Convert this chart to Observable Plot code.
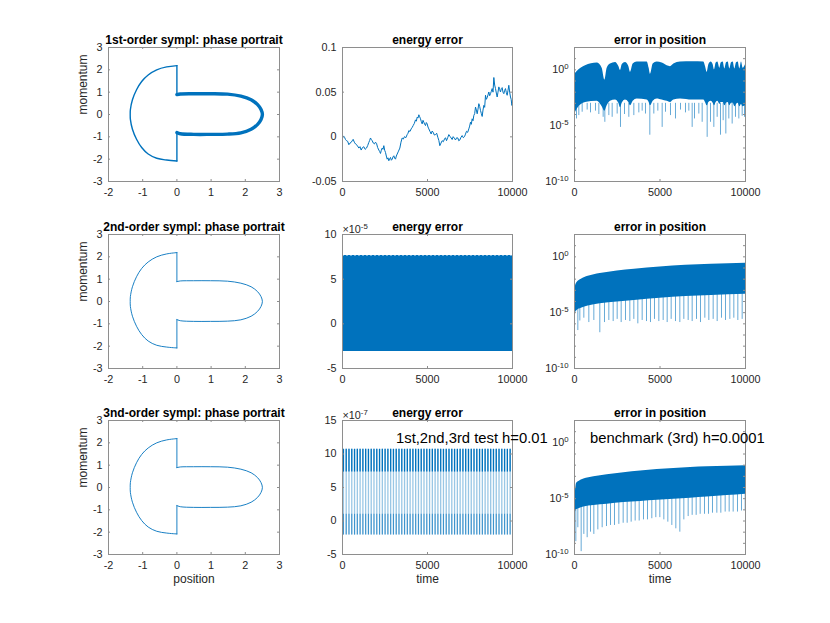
<!DOCTYPE html>
<html><head><meta charset="utf-8">
<script src="https://cdn.jsdelivr.net/npm/d3@7"></script>
<script src="https://cdn.jsdelivr.net/npm/@observablehq/plot@0.6"></script>
<style>
body{margin:0;background:#fff;}
#fig{position:relative;width:830px;height:623px;background:#fff;overflow:hidden;font-family:"Liberation Sans",Arial,Helvetica,sans-serif;}
.panel{position:absolute;}
.note{position:absolute;font-size:14.8px;color:#000;white-space:nowrap;line-height:1;}
</style></head><body><div id="fig"></div>
<script>
// ---------- DATA ----------
const phaseTitles = ["1st-order sympl: phase portrait", "2nd-order sympl: phase portrait", "3nd-order sympl: phase portrait"];
const energyTitle = "energy error";
const errTitle = "error in position";
const noteLeft = "1st,2nd,3rd test h=0.01";
const noteRight = "benchmark (3rd) h=0.0001";

const phaseXTicks = [-2, -1, 0, 1, 2, 3];
const phaseYTicks = [-3, -2, -1, 0, 1, 2, 3];
const timeTicks = [0, 5000, 10000];

// phase portrait: left arc, stems at x=0, right loop
const arcX = [0, -0.30, -0.59, -0.84, -1.03, -1.18, -1.30, -1.36, -1.365, -1.36, -1.30, -1.18, -1.03, -0.84, -0.59, -0.30, 0];
const arcP = [2.19, 2.13, 2.00, 1.77, 1.48, 1.11, 0.66, 0.22, 0, -0.22, -0.66, -1.11, -1.48, -1.77, -1.96, -2.04, -2.08];
const stemLowX = [0, 0], stemLowP = [-2.08, -0.81];
const stemHighX = [0, 0], stemHighP = [0.89, 2.19];
const loopX = [0, 0.10, 0.49, 0.98, 1.48, 1.87, 2.17, 2.36, 2.46, 2.50, 2.46, 2.36, 2.17, 1.87, 1.48, 0.98, 0.49, 0.10, 0];
const loopP = [-0.81, -0.86, -0.89, -0.89, -0.88, -0.82, -0.66, -0.44, -0.22, 0, 0.22, 0.44, 0.66, 0.82, 0.91, 0.93, 0.93, 0.92, 0.89];

// energy error, 1st order
const energy1T = [0,59,118,176,235,304,373,441,510,568,627,696,765,863,961,1030,1098,1176,1255,1333,1412,1480,1549,1598,1647,1696,1745,1813,1882,1941,2000,2068,2137,2186,2235,2284,2333,2382,2431,2480,2529,2578,2627,2676,2725,2775,2824,2873,2922,2971,3020,3069,3118,3167,3216,3295,3373,3441,3510,3578,3647,3725,3804,3853,3902,3970,4039,4098,4157,4225,4294,4343,4392,4441,4490,4539,4588,4637,4686,4735,4784,4833,4882,4931,4980,5029,5078,5147,5216,5274,5333,5402,5471,5540,5608,5667,5725,5794,5863,5931,6000,6059,6118,6186,6255,6324,6392,6451,6510,6578,6647,6716,6784,6843,6902,6970,7039,7108,7176,7235,7294,7363,7431,7480,7529,7578,7627,7676,7725,7775,7824,7873,7922,7971,8020,8069,8118,8167,8216,8265,8314,8363,8412,8461,8510,8559,8608,8657,8706,8755,8804,8853,8902,8951,9000,9049,9098,9147,9196,9245,9294,9343,9392,9441,9490,9539,9588,9637,9686,9735,9784,9833,9882,9922,9961,10000];
const energy1V = [-0.0013,0.0010,-0.0005,-0.0030,-0.0043,-0.0050,-0.0088,-0.0070,-0.0062,-0.0045,-0.0028,-0.0060,-0.0080,-0.0095,-0.0126,-0.0110,-0.0148,-0.0120,-0.0111,-0.0140,-0.0126,-0.0098,-0.0062,-0.0040,-0.0013,-0.0030,-0.0043,-0.0070,-0.0080,-0.0060,-0.0073,-0.0120,-0.0148,-0.0165,-0.0186,-0.0150,-0.0126,-0.0140,-0.0099,-0.0150,-0.0174,-0.0215,-0.0250,-0.0235,-0.0268,-0.0245,-0.0231,-0.0262,-0.0250,-0.0225,-0.0212,-0.0240,-0.0250,-0.0215,-0.0193,-0.0160,-0.0126,-0.0060,-0.0013,-0.0025,0.0002,-0.0010,0.0025,0.0040,0.0070,0.0060,0.0089,0.0105,0.0126,0.0150,0.0190,0.0175,0.0220,0.0210,0.0247,0.0225,0.0202,0.0170,0.0145,0.0185,0.0164,0.0140,0.0126,0.0160,0.0145,0.0110,0.0089,0.0060,0.0032,0.0065,0.0051,0.0020,0.0025,0.0040,-0.0005,-0.0040,-0.0099,-0.0070,-0.0043,-0.0055,-0.0024,-0.0010,-0.0043,-0.0010,0.0025,0.0005,-0.0013,-0.0030,0.0002,-0.0015,-0.0035,-0.0010,-0.0013,-0.0045,-0.0035,-0.0005,0.0014,-0.0010,0.0002,0.0030,0.0062,0.0050,0.0089,0.0120,0.0164,0.0140,0.0202,0.0180,0.0239,0.0260,0.0333,0.0300,0.0258,0.0310,0.0371,0.0340,0.0295,0.0260,0.0228,0.0300,0.0352,0.0330,0.0465,0.0420,0.0438,0.0470,0.0502,0.0460,0.0483,0.0510,0.0540,0.0500,0.0664,0.0580,0.0540,0.0490,0.0446,0.0500,0.0559,0.0530,0.0502,0.0540,0.0551,0.0500,0.0483,0.0520,0.0540,0.0495,0.0465,0.0520,0.0577,0.0500,0.0446,0.0420,0.0352,0.0371];
const energy1Ticks = [-0.05, 0, 0.05, 0.1];

// energy error, 2nd order (dense oscillation band)
const energy2T = [0, 10000];
const energy2Lo = [-3.1e-5, -3.1e-5];
const energy2Hi = [7.65e-5, 7.65e-5];
const energy2Ticks = [-5e-5, 0, 5e-5, 10e-5];

// energy error, 3rd order (spikes)
const energy3T = [55,218,381,545,708,872,1035,1199,1362,1526,1689,1852,2016,2179,2343,2506,2670,2833,2997,3160,3323,3487,3650,3814,3977,4141,4304,4468,4631,4794,4958,5121,5285,5448,5612,5775,5939,6102,6265,6429,6592,6756,6919,7083,7246,7410,7573,7736,7900,8063,8227,8390,8554,8717,8881,9044,9207,9371,9534,9698,9861];
const energy3Min = -2.1e-7, energy3Max = 10.7e-7, energy3UpperDense = 7.3e-7, energy3LowerDense = 1.0e-7;
const energy3Ticks = [-5e-7, 0, 5e-7, 10e-7, 15e-7];

// error in position (log scale)
const logLabelTicks = [1e-10, 1e-5, 1];
const logDecades = [1e-10,1e-9,1e-8,1e-7,1e-6,1e-5,1e-4,1e-3,1e-2,1e-1,1,10,100];

const err1T = [0,156,644,1326,1618,1774,1910,2105,2398,2593,2690,2788,2982,3177,3275,3431,3665,4250,4366,4444,4600,4834,5127,5419,5614,5809,6199,6900,7563,7661,7758,7856,7992,8109,8187,8285,8382,8499,8577,8694,8791,8889,8986,9084,9181,9279,9376,9474,9571,9669,9766,9864,10000];
const err1Hi = [0.35,0.7,2.3,4.0,1.4,0.12,1.4,3.3,4.6,2.0,0.87,2.85,4.6,2.0,0.6,3.3,5.0,5.0,1.4,0.4,3.3,5.0,4.0,2.3,1.9,3.3,5.0,5.2,5.0,2.0,0.6,2.85,5.0,2.85,1.0,4.0,5.0,1.4,4.0,5.0,1.2,4.3,5.0,1.2,4.3,5.0,1.2,4.3,5.0,1.2,5.0,1.4,2.85];
const err1Lo = [1e-4,3e-4,1.2e-3,1.5e-3,5e-4,2e-4,6e-4,1.5e-3,2e-3,1e-3,4e-4,1e-3,2e-3,1.2e-3,6e-4,1.5e-3,2.5e-3,2e-3,1.2e-3,6e-4,1.5e-3,2.5e-3,2e-3,1.5e-3,1.2e-3,2e-3,2.5e-3,2e-3,2e-3,1.2e-3,6e-4,1.2e-3,1.5e-3,1e-3,6e-4,1.2e-3,1.5e-3,8e-4,1.2e-3,1.2e-3,6e-4,1e-3,1.2e-3,6e-4,1e-3,1e-3,5e-4,8e-4,1e-3,5e-4,8e-4,5e-4,6e-4];
const err1SpikeT = [0,117,253,448,741,936,1228,1423,1676,1774,2008,2203,2495,2690,2924,3177,3470,3762,3957,4152,4405,4639,4873,5127,5322,5614,5906,6199,6491,6686,6881,7018,7271,7466,7758,7953,8148,8343,8538,8694,8850,9025,9220,9415,9610,9805,9942];
const err1SpikeMin = [1.3e-9,4e-5,8e-5,1.6e-4,2.5e-4,1.4e-4,2e-4,1e-4,5.6e-5,2e-5,8e-5,5.6e-5,1.1e-4,7e-6,1e-4,5.6e-5,8e-5,1.4e-4,2e-4,1.1e-4,1.4e-6,1.1e-4,2e-4,7e-6,1.6e-4,8e-5,4e-5,2.5e-4,1.4e-4,2e-4,7e-6,4e-5,1.1e-4,2e-5,9e-7,2e-5,7e-6,5.6e-5,1.4e-6,2.8e-5,1.8e-6,4e-5,1.4e-5,5.6e-5,4e-5,7e-5,5.6e-5];
const err1SpikeTop = 1e-3;

const err2T = [20,60,150,400,800,1500,2500,3500,5000,6500,8000,10000];
const err2Hi = [6.3e-4,2.5e-3,5e-3,1e-2,1.8e-2,3.2e-2,5.5e-2,7.9e-2,0.126,0.178,0.219,0.27];
const err2Lo = [6.3e-6,1e-5,1.6e-5,2.5e-5,4e-5,6.3e-5,8.9e-5,1.26e-4,2e-4,2.8e-4,3.5e-4,4.5e-4];
const err2SpikeT = [0,195,312,546,838,1131,1481,1754,2008,2261,2495,2729,2982,3236,3470,3704,3957,4211,4444,4678,4932,5185,5419,5653,5906,6160,6394,6647,6881,7135,7368,7622,7856,8109,8343,8596,8830,9084,9318,9552,9805];
const err2SpikeMin = [1e-9,2.5e-7,1.8e-6,3.2e-6,1.3e-6,2e-6,1.6e-7,1.3e-6,2e-6,1.6e-6,2.5e-6,1.3e-6,2e-6,1.6e-6,2.5e-6,1e-6,2e-6,1.6e-6,1.3e-6,2.5e-6,1.6e-6,2e-6,1.3e-6,2.5e-6,1.6e-6,1.3e-6,2.5e-6,2e-6,1.6e-6,2.5e-6,1.3e-6,3.2e-6,2e-6,2.5e-6,1.6e-6,3.2e-6,2e-6,2.5e-6,3.2e-6,2e-6,2.5e-6];
const err2SpikeTop = 1e-3;

const err3T = [20,60,117,253,546,1131,1910,2885,3860,4834,5809,6784,7758,8928,10000];
const err3Hi = [1e-5,5e-5,2.3e-4,3.5e-4,5.8e-4,9.3e-4,1.4e-3,2.1e-3,3e-3,4e-3,5e-3,6.2e-3,7.1e-3,8.1e-3,8.7e-3];
const err3Lo = [3.2e-7,6.3e-7,1e-6,1.26e-6,1.8e-6,2.5e-6,3.2e-6,4.5e-6,5.6e-6,7.1e-6,8.9e-6,1.1e-5,1.4e-5,1.9e-5,2.5e-5];
const err3SpikeT = [0,78,195,390,546,741,936,1131,1365,1618,1871,2105,2339,2593,2846,3080,3314,3548,3782,4035,4269,4522,4756,4990,5224,5458,5692,5926,6160,6394,6647,6881,7115,7349,7602,7836,8070,8324,8558,8811,9045,9279,9532,9766,9980];
const err3SpikeMin = [3.2e-10,1.4e-9,2.5e-8,1.8e-10,6.3e-9,3.2e-9,1e-8,6.3e-9,1.6e-8,2.5e-8,3.2e-8,4e-8,4e-8,5e-8,6.3e-8,6.3e-8,7.9e-8,1e-7,1e-7,1.26e-7,1.26e-7,1.6e-7,2e-7,2e-7,1.26e-7,7.9e-8,4e-8,2e-8,1e-8,1.26e-7,2.5e-7,3.2e-7,3.2e-7,4e-7,4e-7,4e-7,5e-7,5e-7,5e-7,6.3e-7,6.3e-7,6.3e-7,6.3e-7,7.9e-7,7.9e-7];
const err3SpikeTop = 1e-4;

// ---------- STYLE / LAYOUT ----------
const BLUE = "#0072BD";
const AXC = "#8e8e8e";
const TXT = "#262626";
const FONT = "'Liberation Sans', Arial, Helvetica, sans-serif";
const colX = [108, 342, 574], colW = [171, 170, 171];
const rowY = [47, 234, 420], rowH = 134;
const ML = 60, MR = 20, MT = 30, MB = 40, TL = 2;

const zip = (xs, ys, kx, ky) => xs.map((v, i) => ({[kx]: v, [ky]: ys[i]}));
const logFmt = d => "10^" + Math.round(Math.log10(d));

const fig = document.getElementById("fig");

// turn "base^exp" texts into real superscript tspans
function superscripts(svg) {
  d3.select(svg).selectAll("text").each(function () {
    const s = this.textContent;
    if (!s.includes("^")) return;
    const [b, e] = s.split("^");
    this.textContent = "";
    const t = d3.select(this);
    t.append("tspan").text(b);
    t.append("tspan").attr("dy", "-0.5em").attr("font-size", "0.72em").text(e);
  });
}

function panel({row, col, xDomain, xTicks, yDomain, yTicks, yType, yTickMarks, yFormat, marks, title, xlabel, ylabel, expo}) {
  const w = colW[col], h = rowH;
  const extra = [];
  if (ylabel) extra.push(Plot.text([ylabel], {text: d => d, frameAnchor: "left", rotate: -90, dx: -25, fontSize: 12, fill: TXT}));
  if (xlabel) extra.push(Plot.text([xlabel], {text: d => d, frameAnchor: "bottom", dy: 28, fontSize: 12, fill: TXT}));
  if (expo) extra.push(Plot.text([expo], {text: d => d, frameAnchor: "top-left", dy: -2, textAnchor: "start", lineAnchor: "bottom", fontSize: 10.8, fill: TXT}));
  const ytm = yTickMarks || yTicks;
  const svg = Plot.plot({
    width: w + ML + MR, height: h + MT + MB,
    marginLeft: ML, marginRight: MR, marginTop: MT, marginBottom: MB,
    x: {domain: xDomain, label: null},
    y: {domain: yDomain, type: yType || "linear", label: null},
    style: {background: "transparent", overflow: "visible", fontFamily: FONT, fontSize: "10.8px", color: TXT},
    marks: [
      ...marks,
      Plot.frame({stroke: AXC}),
      Plot.tickX(xTicks, {x: d => d, insetTop: h - TL, stroke: AXC}),
      Plot.tickX(xTicks, {x: d => d, insetBottom: h - TL, stroke: AXC}),
      Plot.tickY(ytm, {y: d => d, insetRight: w - TL, stroke: AXC}),
      Plot.tickY(ytm, {y: d => d, insetLeft: w - TL, stroke: AXC}),
      Plot.axisX({ticks: xTicks, tickSize: 0, tickPadding: 7, fontSize: 10.8, tickFormat: d => String(d)}),
      Plot.axisY({ticks: yTicks, tickSize: 0, tickPadding: 6, fontSize: 10.8, tickFormat: yFormat}),
      Plot.text([title], {text: d => d, frameAnchor: "top", dy: -4, lineAnchor: "bottom", fontWeight: "bold", fontSize: 12, fill: "#000"}),
      ...extra
    ]
  });
  superscripts(svg);
  const div = document.createElement("div");
  div.className = "panel";
  div.style.left = (colX[col] - ML) + "px";
  div.style.top = (rowY[row] - MT) + "px";
  div.appendChild(svg);
  fig.appendChild(div);
}

// ---------- PHASE PORTRAITS ----------
const arc = zip(arcX, arcP, "x", "p");
const stemLow = zip(stemLowX, stemLowP, "x", "p");
const stemHigh = zip(stemHighX, stemHighP, "x", "p");
const loop = zip(loopX, loopP, "x", "p");
for (let r = 0; r < 3; r++) {
  const thin = r > 0 ? 0.9 : 1.4;
  const loopW = r > 0 ? 0.9 : 3.4;
  panel({
    row: r, col: 0, xDomain: [-2, 3], xTicks: phaseXTicks, yDomain: [-3, 3], yTicks: phaseYTicks,
    yFormat: d => String(d), title: phaseTitles[r], ylabel: "momentum", xlabel: r === 2 ? "position" : null,
    marks: [
      Plot.line(arc, {x: "x", y: "p", stroke: BLUE, strokeWidth: thin, curve: "catmull-rom", clip: true}),
      Plot.line(stemLow, {x: "x", y: "p", stroke: BLUE, strokeWidth: thin, clip: true}),
      Plot.line(stemHigh, {x: "x", y: "p", stroke: BLUE, strokeWidth: thin, clip: true}),
      Plot.line(loop, {x: "x", y: "p", stroke: BLUE, strokeWidth: loopW, curve: "catmull-rom", clip: true})
    ]
  });
}

// ---------- ENERGY ERROR ----------
panel({
  row: 0, col: 1, xDomain: [0, 10000], xTicks: timeTicks, yDomain: [-0.05, 0.1], yTicks: energy1Ticks,
  yFormat: d => String(d), title: energyTitle,
  marks: [Plot.line(zip(energy1T, energy1V, "t", "v"), {x: "t", y: "v", stroke: BLUE, strokeWidth: 1, clip: true})]
});
panel({
  row: 1, col: 1, xDomain: [0, 10000], xTicks: timeTicks, yDomain: [-5e-5, 10e-5], yTicks: energy2Ticks,
  yFormat: d => String(Math.round(d / 1e-5)), title: energyTitle, expo: "\u00D710^-5",
  marks: [
    Plot.areaY(energy2T.map((t, i) => ({t, lo: energy2Lo[i], hi: energy2Hi[i]})), {x: "t", y1: "lo", y2: "hi", fill: BLUE, clip: true}),
    Plot.ruleY([energy2Hi[0], energy2Lo[0]], {y: d => d, stroke: "white", strokeOpacity: 0.45, strokeDasharray: "2,2"})
  ]
});
panel({
  row: 2, col: 1, xDomain: [0, 10000], xTicks: timeTicks, yDomain: [-5e-7, 15e-7], yTicks: energy3Ticks,
  yFormat: d => String(Math.round(d / 1e-7)), title: energyTitle, expo: "\u00D710^-7", xlabel: "time",
  marks: [
    Plot.ruleX(energy3T, {x: d => d, y1: energy3Min, y2: energy3Max, stroke: BLUE, strokeOpacity: 0.4, strokeWidth: 1.3, clip: true}),
    Plot.ruleX(energy3T, {x: d => d, y1: energy3UpperDense, y2: energy3Max, stroke: BLUE, strokeWidth: 1.3, clip: true}),
    Plot.ruleX(energy3T, {x: d => d, y1: energy3Min, y2: energy3LowerDense, stroke: BLUE, strokeOpacity: 0.6, strokeWidth: 1.1, clip: true})
  ]
});

// ---------- ERROR IN POSITION ----------
function errMarks(T, Hi, Lo, ST, SMin, STop) {
  return [
    Plot.ruleX(ST.map((t, i) => ({t, m: SMin[i]})), {x: "t", y1: "m", y2: STop, stroke: BLUE, strokeOpacity: 0.6, strokeWidth: 1, clip: true}),
    Plot.areaY(T.map((t, i) => ({t, hi: Hi[i], lo: Lo[i]})), {x: "t", y1: "lo", y2: "hi", fill: BLUE, curve: "monotone-x", clip: true})
  ];
}
const errRows = [
  [err1T, err1Hi, err1Lo, err1SpikeT, err1SpikeMin, err1SpikeTop],
  [err2T, err2Hi, err2Lo, err2SpikeT, err2SpikeMin, err2SpikeTop],
  [err3T, err3Hi, err3Lo, err3SpikeT, err3SpikeMin, err3SpikeTop]
];
errRows.forEach((a, r) => {
  panel({
    row: r, col: 2, xDomain: [0, 10000], xTicks: timeTicks, yDomain: [1e-10, 1e2], yType: "log",
    yTicks: logLabelTicks, yTickMarks: logDecades, yFormat: logFmt, title: errTitle, xlabel: r === 2 ? "time" : null,
    marks: errMarks(...a)
  });
});

// ---------- FIGURE ANNOTATIONS ----------
function note(text, left, top) {
  const d = document.createElement("div");
  d.className = "note"; d.textContent = text;
  d.style.left = left + "px"; d.style.top = top + "px";
  fig.appendChild(d);
}
note(noteLeft, 396, 431);
note(noteRight, 590, 431);
</script></body></html>
